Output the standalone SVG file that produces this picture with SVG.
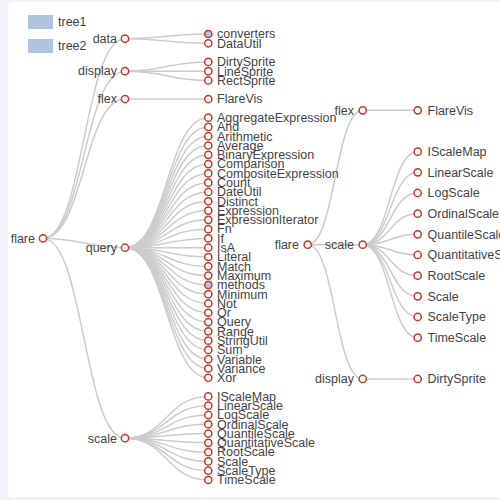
<svg xmlns="http://www.w3.org/2000/svg" width="500" height="500" viewBox="0 0 500 500">
<style>
.lk{fill:none;stroke:#ccc;stroke-width:1.5}
.nd circle{fill:#fff;stroke:#c23531;stroke-width:1.5}
.nd circle.c{fill:#b0c4de}
text{font-family:"Liberation Sans",Arial,sans-serif;font-size:12.5px;fill:#444}
.e{text-anchor:end}
</style>
<rect x="0" y="0" width="500" height="500" fill="#f2f3f9"/>
<rect x="8" y="2" width="510" height="495" rx="4" fill="#fff"/>
<g id="legend">
<rect x="28" y="15" width="25" height="14" fill="#b0c4de"/>
<text x="58" y="26">tree1</text>
<rect x="28" y="39" width="25" height="14" fill="#b0c4de"/>
<text x="58" y="50">tree2</text>
</g>
<g id="links" class="lk">
<path d="M43 238.42C84 238.42 84 38.65 125 38.65"/>
<path d="M43 238.42C84 238.42 84 71.17 125 71.17"/>
<path d="M43 238.42C84 238.42 84 99.04 125 99.04"/>
<path d="M43 238.42C84 238.42 84 247.71 125 247.71"/>
<path d="M43 238.42C84 238.42 84 438.19 125 438.19"/>
<path d="M125 38.65C166.6 38.65 166.6 34 208.3 34"/>
<path d="M125 38.65C166.6 38.65 166.6 43.29 208.3 43.29"/>
<path d="M125 71.17C166.6 71.17 166.6 61.88 208.3 61.88"/>
<path d="M125 71.17C166.6 71.17 166.6 71.17 208.3 71.17"/>
<path d="M125 71.17C166.6 71.17 166.6 80.46 208.3 80.46"/>
<path d="M125 99.04C166.6 99.04 166.6 99.04 208.3 99.04"/>
<path d="M125 247.71C166.6 247.71 166.6 117.63 208.3 117.63"/>
<path d="M125 247.71C166.6 247.71 166.6 126.92 208.3 126.92"/>
<path d="M125 247.71C166.6 247.71 166.6 136.21 208.3 136.21"/>
<path d="M125 247.71C166.6 247.71 166.6 145.5 208.3 145.5"/>
<path d="M125 247.71C166.6 247.71 166.6 154.8 208.3 154.8"/>
<path d="M125 247.71C166.6 247.71 166.6 164.09 208.3 164.09"/>
<path d="M125 247.71C166.6 247.71 166.6 173.38 208.3 173.38"/>
<path d="M125 247.71C166.6 247.71 166.6 182.67 208.3 182.67"/>
<path d="M125 247.71C166.6 247.71 166.6 191.96 208.3 191.96"/>
<path d="M125 247.71C166.6 247.71 166.6 201.25 208.3 201.25"/>
<path d="M125 247.71C166.6 247.71 166.6 210.55 208.3 210.55"/>
<path d="M125 247.71C166.6 247.71 166.6 219.84 208.3 219.84"/>
<path d="M125 247.71C166.6 247.71 166.6 229.13 208.3 229.13"/>
<path d="M125 247.71C166.6 247.71 166.6 238.42 208.3 238.42"/>
<path d="M125 247.71C166.6 247.71 166.6 247.71 208.3 247.71"/>
<path d="M125 247.71C166.6 247.71 166.6 257 208.3 257"/>
<path d="M125 247.71C166.6 247.71 166.6 266.3 208.3 266.3"/>
<path d="M125 247.71C166.6 247.71 166.6 275.59 208.3 275.59"/>
<path d="M125 247.71C166.6 247.71 166.6 284.88 208.3 284.88"/>
<path d="M125 247.71C166.6 247.71 166.6 294.17 208.3 294.17"/>
<path d="M125 247.71C166.6 247.71 166.6 303.46 208.3 303.46"/>
<path d="M125 247.71C166.6 247.71 166.6 312.75 208.3 312.75"/>
<path d="M125 247.71C166.6 247.71 166.6 322.05 208.3 322.05"/>
<path d="M125 247.71C166.6 247.71 166.6 331.34 208.3 331.34"/>
<path d="M125 247.71C166.6 247.71 166.6 340.63 208.3 340.63"/>
<path d="M125 247.71C166.6 247.71 166.6 349.92 208.3 349.92"/>
<path d="M125 247.71C166.6 247.71 166.6 359.21 208.3 359.21"/>
<path d="M125 247.71C166.6 247.71 166.6 368.5 208.3 368.5"/>
<path d="M125 247.71C166.6 247.71 166.6 377.79 208.3 377.79"/>
<path d="M125 438.19C166.6 438.19 166.6 396.38 208.3 396.38"/>
<path d="M125 438.19C166.6 438.19 166.6 405.67 208.3 405.67"/>
<path d="M125 438.19C166.6 438.19 166.6 414.96 208.3 414.96"/>
<path d="M125 438.19C166.6 438.19 166.6 424.25 208.3 424.25"/>
<path d="M125 438.19C166.6 438.19 166.6 433.54 208.3 433.54"/>
<path d="M125 438.19C166.6 438.19 166.6 442.84 208.3 442.84"/>
<path d="M125 438.19C166.6 438.19 166.6 452.13 208.3 452.13"/>
<path d="M125 438.19C166.6 438.19 166.6 461.42 208.3 461.42"/>
<path d="M125 438.19C166.6 438.19 166.6 470.71 208.3 470.71"/>
<path d="M125 438.19C166.6 438.19 166.6 480 208.3 480"/>
<path d="M307.7 244.63C335.2 244.63 335.2 110.3 362.7 110.3"/>
<path d="M307.7 244.63C335.2 244.63 335.2 244.63 362.7 244.63"/>
<path d="M307.7 244.63C335.2 244.63 335.2 378.97 362.7 378.97"/>
<path d="M362.7 110.3C390.2 110.3 390.2 110.3 417.7 110.3"/>
<path d="M362.7 378.97C390.2 378.97 390.2 378.97 417.7 378.97"/>
<path d="M362.7 244.63C390.2 244.63 390.2 151.63 417.7 151.63"/>
<path d="M362.7 244.63C390.2 244.63 390.2 172.3 417.7 172.3"/>
<path d="M362.7 244.63C390.2 244.63 390.2 192.97 417.7 192.97"/>
<path d="M362.7 244.63C390.2 244.63 390.2 213.63 417.7 213.63"/>
<path d="M362.7 244.63C390.2 244.63 390.2 234.3 417.7 234.3"/>
<path d="M362.7 244.63C390.2 244.63 390.2 254.97 417.7 254.97"/>
<path d="M362.7 244.63C390.2 244.63 390.2 275.63 417.7 275.63"/>
<path d="M362.7 244.63C390.2 244.63 390.2 296.3 417.7 296.3"/>
<path d="M362.7 244.63C390.2 244.63 390.2 316.97 417.7 316.97"/>
<path d="M362.7 244.63C390.2 244.63 390.2 337.63 417.7 337.63"/>
</g>
<g id="tree1">
<g id="t1-flare" class="nd"><circle cx="43" cy="238.42" r="3.6"/><text class="e" x="35" y="242.7">flare</text></g>
<g id="t1-data" class="nd"><circle cx="125" cy="38.65" r="3.6"/><text class="e" x="117" y="42.9">data</text></g>
<g id="t1-display" class="nd"><circle cx="125" cy="71.17" r="3.6"/><text class="e" x="117" y="75.4">display</text></g>
<g id="t1-flex" class="nd"><circle cx="125" cy="99.04" r="3.6"/><text class="e" x="117" y="103.3">flex</text></g>
<g id="t1-query" class="nd"><circle cx="125" cy="247.71" r="3.6"/><text class="e" x="117" y="252">query</text></g>
<g id="t1-scale" class="nd"><circle cx="125" cy="438.19" r="3.6"/><text class="e" x="117" y="442.5">scale</text></g>
<g id="t1-converters" class="nd"><circle class="c" cx="208.3" cy="34" r="3.6"/><text x="217" y="38.3">converters</text></g>
<g id="t1-DataUtil" class="nd"><circle cx="208.3" cy="43.29" r="3.6"/><text x="217" y="47.6">DataUtil</text></g>
<g id="t1-DirtySprite" class="nd"><circle cx="208.3" cy="61.88" r="3.6"/><text x="217" y="66.2">DirtySprite</text></g>
<g id="t1-LineSprite" class="nd"><circle cx="208.3" cy="71.17" r="3.6"/><text x="217" y="75.5">LineSprite</text></g>
<g id="t1-RectSprite" class="nd"><circle cx="208.3" cy="80.46" r="3.6"/><text x="217" y="84.8">RectSprite</text></g>
<g id="t1-FlareVis" class="nd"><circle cx="208.3" cy="99.04" r="3.6"/><text x="217" y="103.3">FlareVis</text></g>
<g id="t1-AggregateExpression" class="nd"><circle cx="208.3" cy="117.63" r="3.6"/><text x="217" y="121.9">AggregateExpression</text></g>
<g id="t1-And" class="nd"><circle cx="208.3" cy="126.92" r="3.6"/><text x="217" y="131.2">And</text></g>
<g id="t1-Arithmetic" class="nd"><circle cx="208.3" cy="136.21" r="3.6"/><text x="217" y="140.5">Arithmetic</text></g>
<g id="t1-Average" class="nd"><circle cx="208.3" cy="145.5" r="3.6"/><text x="217" y="149.8">Average</text></g>
<g id="t1-BinaryExpression" class="nd"><circle cx="208.3" cy="154.8" r="3.6"/><text x="217" y="159.1">BinaryExpression</text></g>
<g id="t1-Comparison" class="nd"><circle cx="208.3" cy="164.09" r="3.6"/><text x="217" y="168.4">Comparison</text></g>
<g id="t1-CompositeExpression" class="nd"><circle cx="208.3" cy="173.38" r="3.6"/><text x="217" y="177.7">CompositeExpression</text></g>
<g id="t1-Count" class="nd"><circle cx="208.3" cy="182.67" r="3.6"/><text x="217" y="187">Count</text></g>
<g id="t1-DateUtil" class="nd"><circle cx="208.3" cy="191.96" r="3.6"/><text x="217" y="196.3">DateUtil</text></g>
<g id="t1-Distinct" class="nd"><circle cx="208.3" cy="201.25" r="3.6"/><text x="217" y="205.6">Distinct</text></g>
<g id="t1-Expression" class="nd"><circle cx="208.3" cy="210.55" r="3.6"/><text x="217" y="214.9">Expression</text></g>
<g id="t1-ExpressionIterator" class="nd"><circle cx="208.3" cy="219.84" r="3.6"/><text x="217" y="224.1">ExpressionIterator</text></g>
<g id="t1-Fn" class="nd"><circle cx="208.3" cy="229.13" r="3.6"/><text x="217" y="233.4">Fn</text></g>
<g id="t1-If" class="nd"><circle cx="208.3" cy="238.42" r="3.6"/><text x="217" y="242.7">If</text></g>
<g id="t1-IsA" class="nd"><circle cx="208.3" cy="247.71" r="3.6"/><text x="217" y="252">IsA</text></g>
<g id="t1-Literal" class="nd"><circle cx="208.3" cy="257" r="3.6"/><text x="217" y="261.3">Literal</text></g>
<g id="t1-Match" class="nd"><circle cx="208.3" cy="266.3" r="3.6"/><text x="217" y="270.6">Match</text></g>
<g id="t1-Maximum" class="nd"><circle cx="208.3" cy="275.59" r="3.6"/><text x="217" y="279.9">Maximum</text></g>
<g id="t1-methods" class="nd"><circle class="c" cx="208.3" cy="284.88" r="3.6"/><text x="217" y="289.2">methods</text></g>
<g id="t1-Minimum" class="nd"><circle cx="208.3" cy="294.17" r="3.6"/><text x="217" y="298.5">Minimum</text></g>
<g id="t1-Not" class="nd"><circle cx="208.3" cy="303.46" r="3.6"/><text x="217" y="307.8">Not</text></g>
<g id="t1-Or" class="nd"><circle cx="208.3" cy="312.75" r="3.6"/><text x="217" y="317">Or</text></g>
<g id="t1-Query" class="nd"><circle cx="208.3" cy="322.05" r="3.6"/><text x="217" y="326.3">Query</text></g>
<g id="t1-Range" class="nd"><circle cx="208.3" cy="331.34" r="3.6"/><text x="217" y="335.6">Range</text></g>
<g id="t1-StringUtil" class="nd"><circle cx="208.3" cy="340.63" r="3.6"/><text x="217" y="344.9">StringUtil</text></g>
<g id="t1-Sum" class="nd"><circle cx="208.3" cy="349.92" r="3.6"/><text x="217" y="354.2">Sum</text></g>
<g id="t1-Variable" class="nd"><circle cx="208.3" cy="359.21" r="3.6"/><text x="217" y="363.5">Variable</text></g>
<g id="t1-Variance" class="nd"><circle cx="208.3" cy="368.5" r="3.6"/><text x="217" y="372.8">Variance</text></g>
<g id="t1-Xor" class="nd"><circle cx="208.3" cy="377.79" r="3.6"/><text x="217" y="382.1">Xor</text></g>
<g id="t1-IScaleMap" class="nd"><circle cx="208.3" cy="396.38" r="3.6"/><text x="217" y="400.7">IScaleMap</text></g>
<g id="t1-LinearScale" class="nd"><circle cx="208.3" cy="405.67" r="3.6"/><text x="217" y="410">LinearScale</text></g>
<g id="t1-LogScale" class="nd"><circle cx="208.3" cy="414.96" r="3.6"/><text x="217" y="419.3">LogScale</text></g>
<g id="t1-OrdinalScale" class="nd"><circle cx="208.3" cy="424.25" r="3.6"/><text x="217" y="428.5">OrdinalScale</text></g>
<g id="t1-QuantileScale" class="nd"><circle cx="208.3" cy="433.54" r="3.6"/><text x="217" y="437.8">QuantileScale</text></g>
<g id="t1-QuantitativeScale" class="nd"><circle cx="208.3" cy="442.84" r="3.6"/><text x="217" y="447.1">QuantitativeScale</text></g>
<g id="t1-RootScale" class="nd"><circle cx="208.3" cy="452.13" r="3.6"/><text x="217" y="456.4">RootScale</text></g>
<g id="t1-Scale" class="nd"><circle cx="208.3" cy="461.42" r="3.6"/><text x="217" y="465.7">Scale</text></g>
<g id="t1-ScaleType" class="nd"><circle cx="208.3" cy="470.71" r="3.6"/><text x="217" y="475">ScaleType</text></g>
<g id="t1-TimeScale" class="nd"><circle cx="208.3" cy="480" r="3.6"/><text x="217" y="484.3">TimeScale</text></g>
</g>
<g id="tree2">
<g id="t2-flare" class="nd"><circle cx="307.7" cy="244.63" r="3.6"/><text class="e" x="299" y="248.9">flare</text></g>
<g id="t2-flex" class="nd"><circle cx="362.7" cy="110.3" r="3.6"/><text class="e" x="354" y="114.6">flex</text></g>
<g id="t2-scale" class="nd"><circle cx="362.7" cy="244.63" r="3.6"/><text class="e" x="354" y="248.9">scale</text></g>
<g id="t2-display" class="nd"><circle cx="362.7" cy="378.97" r="3.6"/><text class="e" x="354" y="383.3">display</text></g>
<g id="t2-FlareVis" class="nd"><circle cx="417.7" cy="110.3" r="3.6"/><text x="427.5" y="114.6">FlareVis</text></g>
<g id="t2-IScaleMap" class="nd"><circle cx="417.7" cy="151.63" r="3.6"/><text x="427.5" y="155.9">IScaleMap</text></g>
<g id="t2-LinearScale" class="nd"><circle cx="417.7" cy="172.3" r="3.6"/><text x="427.5" y="176.6">LinearScale</text></g>
<g id="t2-LogScale" class="nd"><circle cx="417.7" cy="192.97" r="3.6"/><text x="427.5" y="197.3">LogScale</text></g>
<g id="t2-OrdinalScale" class="nd"><circle cx="417.7" cy="213.63" r="3.6"/><text x="427.5" y="217.9">OrdinalScale</text></g>
<g id="t2-QuantileScale" class="nd"><circle cx="417.7" cy="234.3" r="3.6"/><text x="427.5" y="238.6">QuantileScale</text></g>
<g id="t2-QuantitativeScale" class="nd"><circle cx="417.7" cy="254.97" r="3.6"/><text x="427.5" y="259.3">QuantitativeScale</text></g>
<g id="t2-RootScale" class="nd"><circle cx="417.7" cy="275.63" r="3.6"/><text x="427.5" y="279.9">RootScale</text></g>
<g id="t2-Scale" class="nd"><circle cx="417.7" cy="296.3" r="3.6"/><text x="427.5" y="300.6">Scale</text></g>
<g id="t2-ScaleType" class="nd"><circle cx="417.7" cy="316.97" r="3.6"/><text x="427.5" y="321.3">ScaleType</text></g>
<g id="t2-TimeScale" class="nd"><circle cx="417.7" cy="337.63" r="3.6"/><text x="427.5" y="341.9">TimeScale</text></g>
<g id="t2-DirtySprite" class="nd"><circle cx="417.7" cy="378.97" r="3.6"/><text x="427.5" y="383.3">DirtySprite</text></g>
</g>
</svg>
